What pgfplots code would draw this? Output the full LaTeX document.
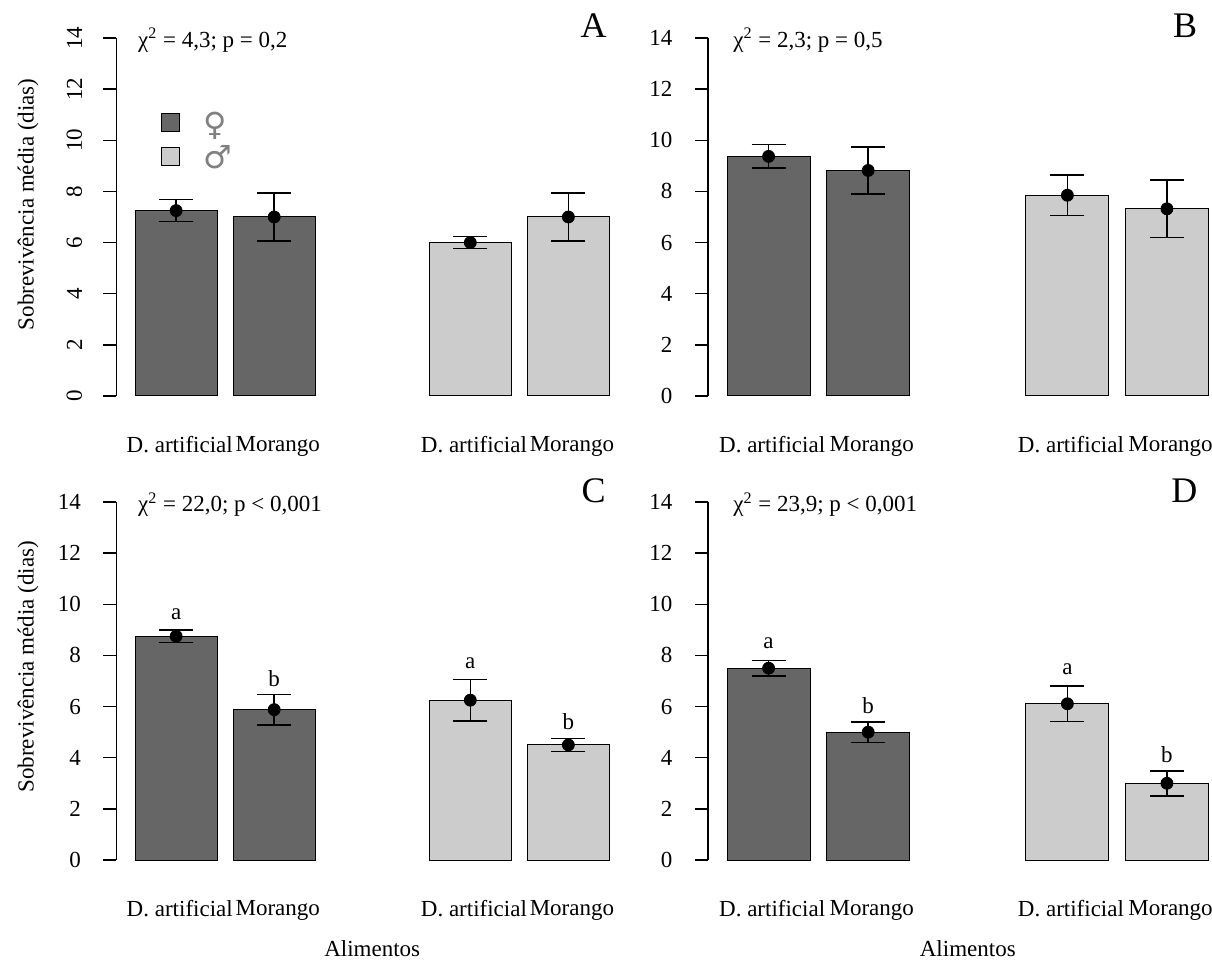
\documentclass[border=0pt]{standalone}
\usepackage{pgfplots}
\pgfplotsset{compat=1.18}
\usepackage{fontspec}
\setmainfont{Liberation Serif}
\newfontfamily\symfont{DejaVu Sans}
\definecolor{darkg}{HTML}{666666}
\definecolor{lightg}{HTML}{CCCCCC}
\pgfplotsset{
  panel/.style={
    scale only axis, anchor=south west, clip=false,
    ymin=0, ymax=14, xmin=-0.73, xmax=5.35,
    height=179pt,
    axis lines*=left,
    x axis line style={draw=none},
    y axis line style={line width=0.75pt, black},
    ytick={0,2,...,14},
    xtick={0,1.2,3.6,4.8},
    xticklabels={D. artificial,Morango,D. artificial,Morango},
    xtick style={draw=none},
    ytick style={line width=0.75pt, black},
    ytick align=outside, major tick length=6.5pt,
    /pgf/number format/assume math mode=true,
    xticklabel style={anchor=north, inner sep=0pt, yshift=-20pt, xshift=1.8pt},
  },
  hlab/.style={yticklabel style={anchor=east, inner sep=0pt, xshift=-11.1pt}},
  vlab/.style={yticklabel style={xshift=-10.5pt, rotate=90, anchor=south, inner sep=0pt}},
  bars/.style={ybar, bar width=1, bar shift=0pt, draw=black, line width=0.5pt},
  pts/.style={only marks, mark=*, mark size=3pt, black, forget plot,
    error bars/y dir=both, error bars/y explicit,
    error bars/error bar style={line width=0.75pt, black},
    error bars/error mark options={rotate=90, mark size=8.5pt, line width=0.75pt, black}},
}
\begin{document}
\fontsize{11.5}{14}\selectfont
\begin{tikzpicture}
\path[use as bounding box] (0,0) rectangle (606pt,483pt);

% ---------------- A ----------------
\begin{axis}[panel, vlab, at={(58.25pt,285pt)}, width=248.4pt,
  legend style={at={(axis cs:-0.19,11.1)}, anchor=north west, draw=none, fill=none,
    inner sep=0pt, outer sep=0pt, row sep=6pt, column sep=12pt, nodes={inner sep=0pt}},
  legend cell align=left,
  legend image code/.code={\draw[#1,draw=black,line width=0.5pt] (0pt,-4.5pt) rectangle (9pt,4.5pt);},
]
\addplot[bars, fill=darkg] coordinates {(0,7.25) (1.2,7.0)};
\addlegendentry{\raisebox{-0.25em}{\symfont\fontsize{16}{16}\selectfont\color{black!50}♀}}
\addplot[bars, fill=lightg] coordinates {(3.6,6.0) (4.8,7.0)};
\addlegendentry{\raisebox{-0.2em}{\symfont\fontsize{16}{16}\selectfont\color{black!50}♂}}
\addplot[pts] coordinates {(0,7.25) +- (0,0.43) (1.2,7.0) +- (0,0.94) (3.6,6.0) +- (0,0.24) (4.8,7.0) +- (0,0.94)};
\node[anchor=base west, inner sep=0pt] at (axis cs:-0.47,13.63) {χ\textsuperscript{2} = 4,3; p = 0,2};
\node[anchor=base, inner sep=0pt, font=\fontsize{18}{20}\selectfont] at (axis cs:5.11,14.0) {A};
\node[rotate=90, inner sep=0pt] at (axis description cs:-0.178,0.535) {Sobrevivência média (dias)};
\end{axis}

% ---------------- B ----------------
\begin{axis}[panel, hlab, at={(354pt,285pt)}, width=252.3pt]
\addplot[bars, fill=darkg] coordinates {(0,9.37) (1.2,8.82)};
\addplot[bars, fill=lightg] coordinates {(3.6,7.85) (4.8,7.32)};
\addplot[pts] coordinates {(0,9.37) +- (0,0.46) (1.2,8.82) +- (0,0.92) (3.6,7.85) +- (0,0.80) (4.8,7.32) +- (0,1.12)};
\node[anchor=base west, inner sep=0pt] at (axis cs:-0.43,13.63) {χ\textsuperscript{2} = 2,3; p = 0,5};
\node[anchor=base, inner sep=0pt, font=\fontsize{18}{20}\selectfont] at (axis cs:5.02,14.0) {B};
\end{axis}

% ---------------- C ----------------
\begin{axis}[panel, hlab, at={(58.25pt,53pt)}, width=248.4pt]
\addplot[bars, fill=darkg] coordinates {(0,8.75) (1.2,5.88)};
\addplot[bars, fill=lightg] coordinates {(3.6,6.25) (4.8,4.5)};
\addplot[pts] coordinates {(0,8.75) +- (0,0.25) (1.2,5.88) +- (0,0.60) (3.6,6.25) +- (0,0.81) (4.8,4.5) +- (0,0.25)};
\node[anchor=base west, inner sep=0pt] at (axis cs:-0.47,13.62) {χ\textsuperscript{2} = 22,0; p < 0,001};
\node[anchor=base, inner sep=0pt, font=\fontsize{18}{20}\selectfont] at (axis cs:5.11,14.0) {C};
\node[rotate=90, inner sep=0pt] at (axis description cs:-0.178,0.54) {Sobrevivência média (dias)};
\node[anchor=base, inner sep=0pt] at (axis cs:0,9.42) {a};
\node[anchor=base, inner sep=0pt] at (axis cs:1.2,6.78) {b};
\node[anchor=base, inner sep=0pt] at (axis cs:3.6,7.48) {a};
\node[anchor=base, inner sep=0pt] at (axis cs:4.8,5.11) {b};
\node[anchor=base, inner sep=0pt, yshift=-48pt] at (axis cs:2.4,0) {Alimentos};
\end{axis}

% ---------------- D ----------------
\begin{axis}[panel, hlab, at={(354pt,53pt)}, width=252.3pt]
\addplot[bars, fill=darkg] coordinates {(0,7.5) (1.2,5.0)};
\addplot[bars, fill=lightg] coordinates {(3.6,6.11) (4.8,3.0)};
\addplot[pts] coordinates {(0,7.5) +- (0,0.30) (1.2,5.0) +- (0,0.40) (3.6,6.11) +- (0,0.69) (4.8,3.0) +- (0,0.49)};
\node[anchor=base west, inner sep=0pt] at (axis cs:-0.43,13.62) {χ\textsuperscript{2} = 23,9; p < 0,001};
\node[anchor=base, inner sep=0pt, font=\fontsize{18}{20}\selectfont] at (axis cs:5.01,14.0) {D};
\node[anchor=base, inner sep=0pt] at (axis cs:0,8.27) {a};
\node[anchor=base, inner sep=0pt] at (axis cs:1.2,5.73) {b};
\node[anchor=base, inner sep=0pt] at (axis cs:3.6,7.25) {a};
\node[anchor=base, inner sep=0pt] at (axis cs:4.8,3.82) {b};
\node[anchor=base, inner sep=0pt, yshift=-48pt] at (axis cs:2.4,0) {Alimentos};
\end{axis}
\end{tikzpicture}
\end{document}
